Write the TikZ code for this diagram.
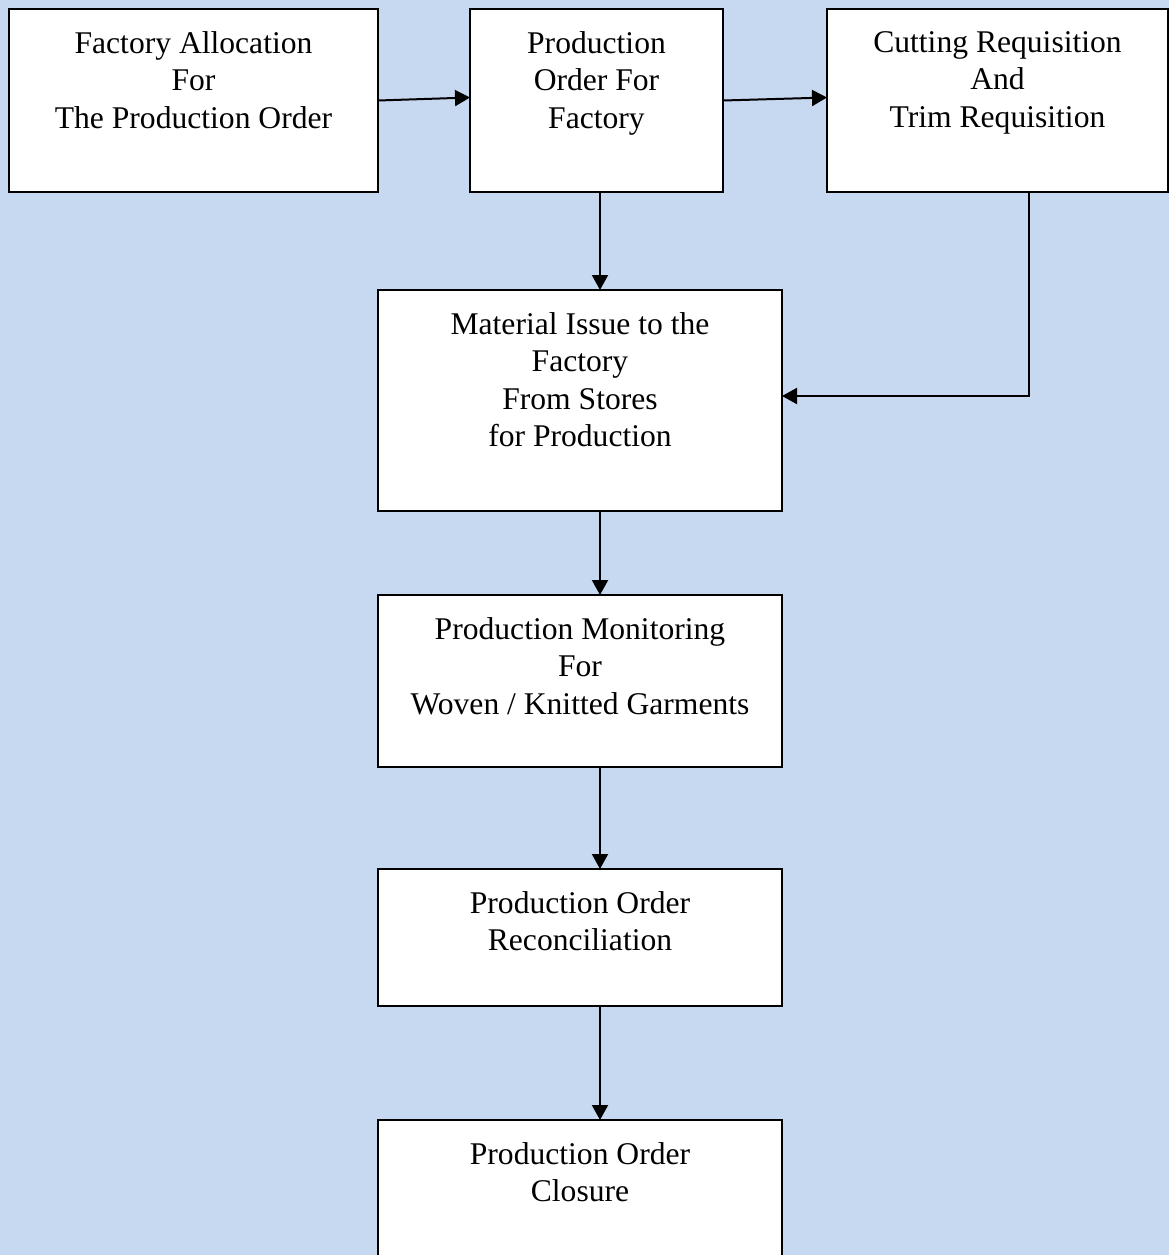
\documentclass[tikz,border=0pt]{standalone}
\usepackage{fontspec}
\setmainfont{Liberation Serif}
\usepackage{tikz}
\usetikzlibrary{positioning,arrows.meta,calc}

\definecolor{bgblue}{RGB}{198,217,241}

\begin{document}
\begin{tikzpicture}[
  x=0.5pt, y=-0.5pt,
  box/.style={
    draw, line width=1.1pt, fill=white,
    minimum height=91.5pt, inner sep=0pt, outer sep=0pt
  },
  txt/.style={font=\fontsize{15.8pt}{18.75pt}\selectfont, align=center,
    inner sep=0pt, anchor=north},
  arr/.style={-{Triangle[length=7.5pt,width=8pt]}, line width=1pt}
]

  % Page and background
  \useasboundingbox (0,0) rectangle (1169,1255);
  \fill[bgblue] (0,0) rectangle (1169,1255);

  % Top row
  \node[box, minimum width=184.5pt] (alloc) at (193.5,100.5) {};
  \node[box, minimum width=126.5pt, right=46pt of alloc]   (prodord) {};
  \node[box, minimum width=170.5pt, right=52pt of prodord] (cutreq)  {};

  % Main column
  \node[box, minimum width=202pt, minimum height=110.5pt,
        below=49pt of prodord, xshift=-8.25pt] (issue)   {};
  \node[box, minimum width=202pt, minimum height=86pt,
        below=42pt of issue]                   (monitor) {};
  \node[box, minimum width=202pt, minimum height=68.5pt,
        below=51pt of monitor]                 (recon)   {};
  \node[box, minimum width=202pt, minimum height=90pt,
        below=57pt of recon]                   (closure) {};

  % Box texts
  \node[txt] (alloc-txt)   at ([yshift=-11pt]alloc.north)
    {Factory Allocation\\For\\The Production Order};
  \node[txt] (prodord-txt) at ([yshift=-11pt]prodord.north)
    {Production\\Order For\\Factory};
  \node[txt] (cutreq-txt)  at ([yshift=-11pt]cutreq.north)
    {Cutting Requisition\\And\\Trim Requisition};
  \node[txt] (issue-txt)   at ([yshift=-11pt]issue.north)
    {Material Issue to the\\Factory\\From Stores\\for Production};
  \node[txt] (monitor-txt) at ([yshift=-11pt]monitor.north)
    {Production Monitoring\\For\\Woven / Knitted Garments};
  \node[txt] (recon-txt)   at ([yshift=-11pt]recon.north)
    {Production Order\\Reconciliation};
  \node[txt] (closure-txt) at ([yshift=-11pt]closure.north)
    {Production Order\\Closure};

  % Arrows
  \draw[arr] (alloc.east)   -- ([yshift=1.5pt]prodord.west);
  \draw[arr] (prodord.east) -- ([yshift=1.5pt]cutreq.west);
  \draw[arr] ([xshift=1.75pt]prodord.south)
    -- ([xshift=1.75pt]prodord.south |- issue.north);
  \draw[arr] ([xshift=15.75pt]cutreq.south) |- ([yshift=2.25pt]issue.east);
  \foreach \a/\b in {issue/monitor, monitor/recon, recon/closure}
    \draw[arr] ([xshift=10pt]\a.south) -- ([xshift=10pt]\b.north);

\end{tikzpicture}
\end{document}
